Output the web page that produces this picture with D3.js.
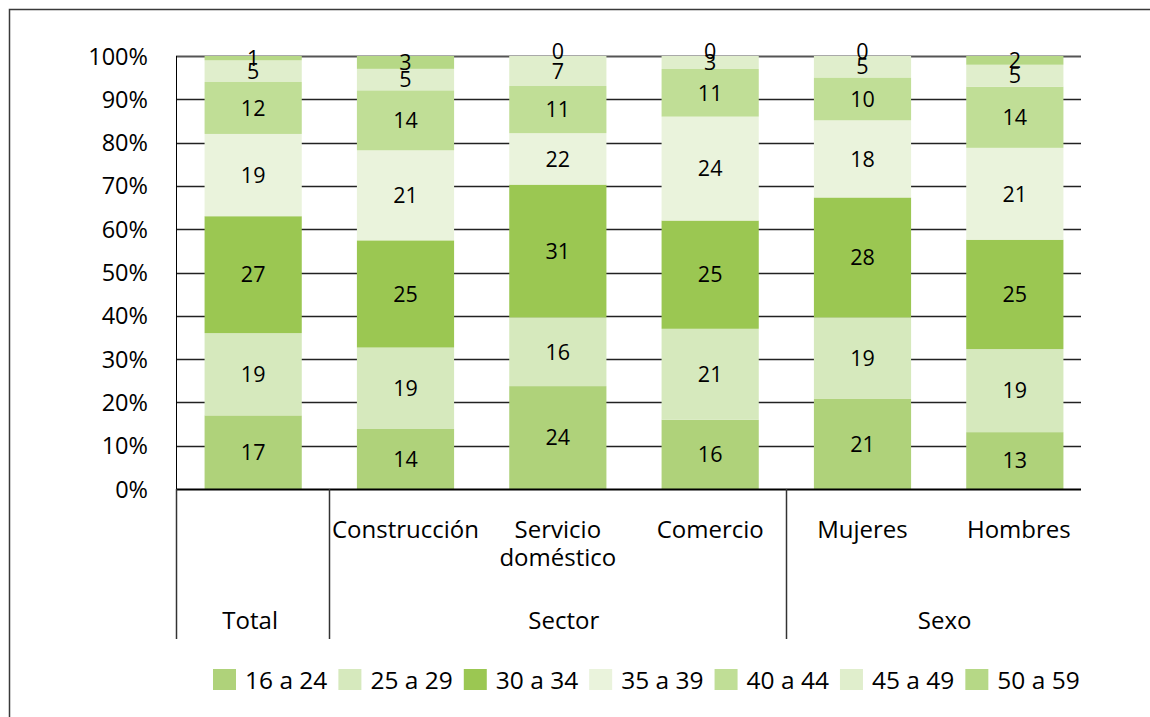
<!DOCTYPE html>
<html>
<head>
<meta charset="utf-8">
<script src="https://cdn.jsdelivr.net/npm/d3@7"></script>
<style>
  html, body { margin: 0; padding: 0; background: #fff; }
  svg { display: block; font-family: "Open Sans", "Noto Sans", sans-serif; }
</style>
</head>
<body>
<svg id="chart" width="1150" height="717"></svg>
<script>
// ---- data ----
const categories = ["Total", "Construcción", "Servicio doméstico", "Comercio", "Mujeres", "Hombres"];
const categoryLabelLines = [[], ["Construcción"], ["Servicio", "doméstico"], ["Comercio"], ["Mujeres"], ["Hombres"]];
const groupNames = ["Total", "Sector", "Sexo"];
const groupFirst = [0, 1, 4];
const groupLast = [0, 3, 5];

const seriesNames = ["16 a 24", "25 a 29", "30 a 34", "35 a 39", "40 a 44", "45 a 49", "50 a 59"];
const s16_24 = [17, 14, 24, 16, 21, 13];
const s25_29 = [19, 19, 16, 21, 19, 19];
const s30_34 = [27, 25, 31, 25, 28, 25];
const s35_39 = [19, 21, 12, 24, 18, 21];         // bar heights as drawn
const s35_39_printed = [19, 21, 22, 24, 18, 21]; // label text as printed in the original
const s40_44 = [12, 14, 11, 11, 10, 14];
const s45_49 = [5, 5, 7, 3, 5, 5];
const s50_59 = [1, 3, 0, 0, 0, 2];
const seriesColors = ["#AFD27A", "#D6E9BD", "#9BC752", "#EAF3DC", "#C0DE96", "#E0EECC", "#B6D886"];
const yTicks = [0, 0.1, 0.2, 0.3, 0.4, 0.5, 0.6, 0.7, 0.8, 0.9, 1.0];

const seriesValues = [s16_24, s25_29, s30_34, s35_39, s40_44, s45_49, s50_59];
const seriesLabels = [s16_24, s25_29, s30_34, s35_39_printed, s40_44, s45_49, s50_59];

// ---- table ----
const table = categories.map((c, i) => {
  const row = { category: c };
  seriesNames.forEach((s, k) => { row[s] = seriesValues[k][i]; });
  return row;
});

const svg = d3.select("#chart");

// outer frame (top and left visible)
svg.append("rect")
  .attr("x", 9.5).attr("y", 9.5).attr("width", 1200).attr("height", 800)
  .attr("fill", "none").attr("stroke", "#3a3a3a").attr("stroke-width", 1.5);

const plotLeft = 176, plotRight = 1081, plotTop = 56, plotBottom = 489;

const x = d3.scaleBand().domain(categories).range([177, 1091]).paddingInner(0.362).paddingOuter(0.181);
const y = d3.scaleLinear().domain([0, 1]).range([plotBottom, plotTop]);

// gridlines
svg.append("g").selectAll("line").data(yTicks.filter(t => t > 0)).join("line")
  .attr("x1", plotLeft).attr("x2", plotRight)
  .attr("y1", d => Math.round(y(d)) + 0.5).attr("y2", d => Math.round(y(d)) + 0.5)
  .attr("stroke", d => d === 1 ? "#555" : "#222")
  .attr("stroke-width", d => d === 1 ? 2 : 1.4);

// y axis
const yAxis = d3.axisLeft(y).tickValues(yTicks).tickFormat(d3.format(".0%")).tickSize(0).tickPadding(28);
const yg = svg.append("g").attr("transform", `translate(${plotLeft},0)`).call(yAxis);
yg.select(".domain").remove();
yg.selectAll("text").attr("font-size", 23.5).attr("fill", "#000")
  .attr("font-family", "'Open Sans', sans-serif").attr("dy", "0.34em");
svg.append("line").attr("x1", plotLeft + 0.5).attr("x2", plotLeft + 0.5)
  .attr("y1", plotTop).attr("y2", plotBottom).attr("stroke", "#000").attr("stroke-width", 1);

// stacked bars
const stack = d3.stack().keys(seriesNames).offset(d3.stackOffsetExpand);
const stacked = stack(table);

const layers = svg.append("g").selectAll("g").data(stacked).join("g")
  .attr("fill", (d, k) => seriesColors[k]);
layers.selectAll("rect").data(d => d).join("rect")
  .attr("x", d => x(d.data.category))
  .attr("width", x.bandwidth())
  .attr("y", d => y(d[1]))
  .attr("height", d => y(d[0]) - y(d[1]));

// bar labels
const labelG = svg.append("g");
stacked.forEach((layer, k) => {
  labelG.selectAll(null).data(layer).join("text")
    .attr("x", d => x(d.data.category) + x.bandwidth() / 2)
    .attr("y", d => (y(d[0]) + y(d[1])) / 2 - (d[1] - d[0] < 0.005 ? 5 : 0))
    .attr("text-anchor", "middle").attr("dy", "0.36em")
    .attr("font-size", 21.5).attr("fill", "#000")
    .text((d, i) => seriesLabels[k][i]);
});

// category axis baseline
svg.append("line").attr("x1", plotLeft).attr("x2", plotRight)
  .attr("y1", plotBottom + 0.5).attr("y2", plotBottom + 0.5)
  .attr("stroke", "#000").attr("stroke-width", 2);

// group separators
const sepX = [plotLeft, ...groupFirst.slice(1).map(i => x(categories[i]) - x.step() * x.paddingInner() / 2)];
svg.append("g").selectAll("line").data(sepX).join("line")
  .attr("x1", d => Math.round(d) + 0.5).attr("x2", d => Math.round(d) + 0.5)
  .attr("y1", plotBottom).attr("y2", 639)
  .attr("stroke", "#333").attr("stroke-width", 1.5);

// category labels (level 1)
const catG = svg.append("g").attr("font-size", 24).attr("fill", "#000");
categories.forEach((c, i) => {
  const cx = x(c) + x.bandwidth() / 2;
  categoryLabelLines[i].forEach((line, j) => {
    catG.append("text").attr("x", cx + (i === 5 ? 4 : 0)).attr("y", 529 + j * 28)
      .attr("text-anchor", "middle").attr("dy", "0.36em").text(line);
  });
});

// group labels (level 2)
groupNames.forEach((g, gi) => {
  const a = x(categories[groupFirst[gi]]) + x.bandwidth() / 2;
  const b = x(categories[groupLast[gi]]) + x.bandwidth() / 2;
  catG.append("text").attr("x", (a + b) / 2 + (gi === 0 ? -3 : 6)).attr("y", 620)
    .attr("text-anchor", "middle").attr("dy", "0.36em").text(g);
});

// legend
const legend = svg.append("g");
let lx = 213;
seriesNames.forEach((s, k) => {
  legend.append("rect").attr("x", lx).attr("y", 669).attr("width", 23).attr("height", 21)
    .attr("fill", seriesColors[k]);
  const t = legend.append("text").attr("x", lx + 32).attr("y", 680)
    .attr("dy", "0.36em").attr("font-size", 24.5).attr("fill", "#000").text(s);
  lx += 32 + t.node().getComputedTextLength() + 11;
});
</script>
</body>
</html>
